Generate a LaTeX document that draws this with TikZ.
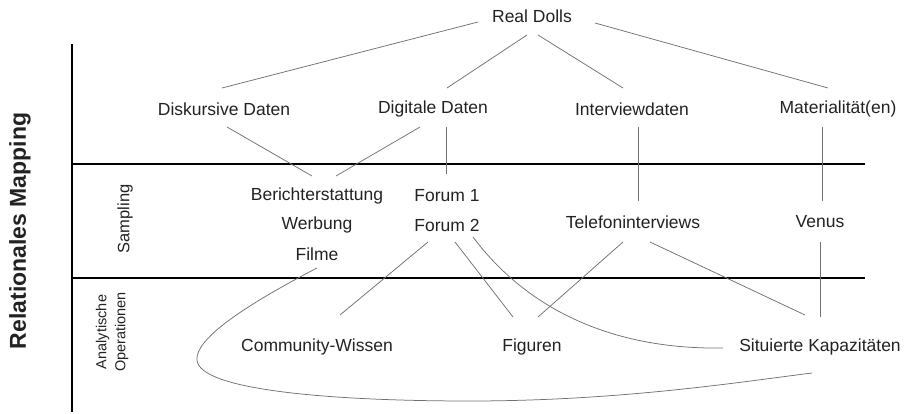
\documentclass[tikz,border=0pt]{standalone}
\usepackage{fontspec}
\setmainfont{Liberation Sans}
\usetikzlibrary{calc}
\definecolor{txt}{HTML}{222222}
\definecolor{conn}{HTML}{707070}
\tikzset{
  lbl/.style={font=\fontsize{17.5}{20}\selectfont, text=txt, inner sep=0pt},
  conn/.style={draw=conn, line width=0.75pt},
  axis/.style={draw=black, line width=1.6pt},
  band/.style={draw=black, line width=1.3pt},
}
\begin{document}
\begin{tikzpicture}[x=1pt,y=-1pt]
\useasboundingbox (0,0) rectangle (911,414);
% axes
\coordinate (axtop) at (72,44);
\coordinate (axbot) at (72,412);
\coordinate (b1l) at (72,164);
\coordinate (b1r) at (865,164);
\coordinate (b2l) at (72,278);
\coordinate (b2r) at (865,278);
\draw[axis] (axtop) -- (axbot);
\draw[band] (b1l) -- (b1r);
\draw[band] (b2l) -- (b2r);
% side labels
\node[rotate=90, font=\fontsize{23}{26}\selectfont\bfseries, text=txt, inner sep=0pt] (rm) at (20,231) {Relationales Mapping};
\node[rotate=90, font=\fontsize{16.5}{19}\selectfont, text=txt, inner sep=0pt] (sa) at (125,219) {Sampling};
\node[rotate=90, align=center, font=\fontsize{14.5}{19}\selectfont, text=txt, inner sep=0pt] (ao) at (112,332) {Analytische\\Operationen};
% nodes
\node[lbl] (rd) at (532,16) {Real Dolls};
\node[lbl] (dk) at (224,109) {Diskursive Daten};
\node[lbl] (dg) at (433,109) {Digitale Daten};
\node[lbl] (iv) at (632,109) {Interviewdaten};
\node[lbl] (mt) at (838,109) {Materialität(en)};
\node[lbl] (be) at (317,196) {Berichterstattung};
\node[lbl] (we) at (317,225) {Werbung};
\node[lbl] (fi) at (317,254) {Filme};
\node[lbl] (f1) at (447,196) {Forum 1};
\node[lbl] (f2) at (447,225) {Forum 2};
\node[lbl] (te) at (633,222) {Telefoninterviews};
\node[lbl] (ve) at (820,222) {Venus};
\node[lbl] (cw) at (317,347) {Community-Wissen};
\node[lbl] (fg) at (532,347) {Figuren};
\node[lbl] (sk) at (820,347) {Situierte Kapazitäten};
% connectors
\draw[conn] ($(rd)+(-54,6)$) -- ($(dk)+(-2,-21)$);
\draw[conn] ($(rd)+(-5,19)$) -- ($(dg)+(14,-21)$);
\draw[conn] ($(rd)+(6,19)$) -- ($(iv)+(-9,-21)$);
\draw[conn] ($(rd)+(63,7)$) -- ($(mt)+(-10,-21)$);
\draw[conn] ($(dk)+(3,18)$) -- ($(be)+(-5,-20)$);
\draw[conn] ($(dg)+(-13,18)$) -- ($(be)+(19,-20)$);
\draw[conn] ($(dg)+(13,18)$) -- ($(f1)+(-1,-22)$);
\draw[conn] ($(iv)+(6,18)$) -- ($(te)+(5,-21)$);
\draw[conn] ($(mt)+(-16,18)$) -- ($(ve)+(2,-21)$);
\draw[conn] ($(f2)+(-19,17)$) -- ($(cw)+(23,-32)$);
\draw[conn] ($(f2)+(8,17)$) -- ($(fg)+(-19,-30)$);
\draw[conn] ($(f2)+(26,12)$) .. controls (520,300) and (600,350) .. ($(sk)+(-97,1)$);
\draw[conn] ($(te)+(-10,20)$) -- ($(fg)+(6,-30)$);
\draw[conn] ($(te)+(17,20)$) -- ($(sk)+(-15,-32)$);
\draw[conn] ($(ve)+(0,20)$) -- ($(sk)+(0,-30)$);
\draw[conn] ($(fi)+(0,14)$) .. controls (240,308) and (195,340) .. (197,360)
  .. controls (199,390) and (330,401) .. (470,401)
  .. controls (620,401) and (740,382) .. ($(sk)+(-8,26)$);
\end{tikzpicture}
\end{document}
